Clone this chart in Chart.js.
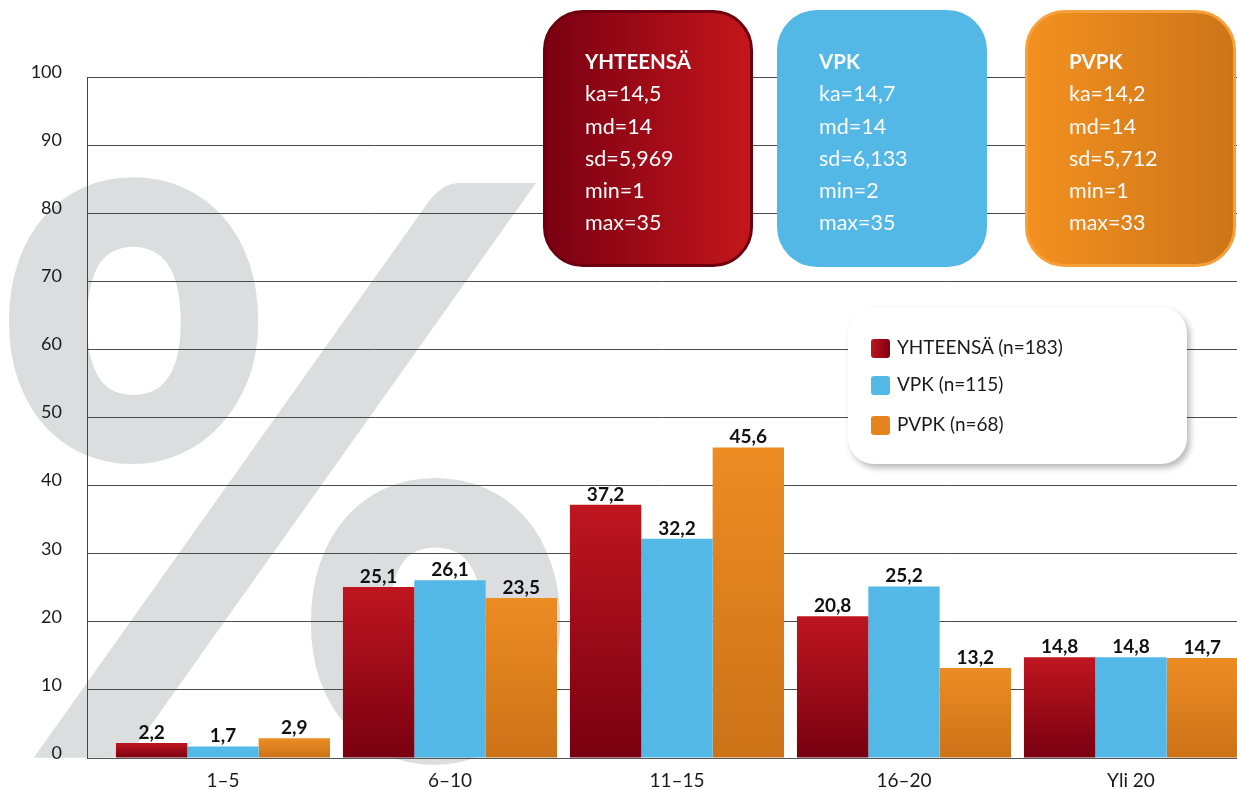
<!DOCTYPE html>
<html>
<head>
<meta charset="utf-8">
<script src="https://cdn.jsdelivr.net/npm/chart.js@4/dist/chart.umd.min.js"></script>
<style>
  html, body { margin: 0; padding: 0; background: #fff; overflow: hidden; }
  #wrap { position: relative; width: 1237px; height: 790px; overflow: hidden; }
  #c { position: absolute; left: 0; top: 0; }
  .stat { position: absolute; top: 10px; height: 257px; box-sizing: border-box; border-radius: 40px;
          font-family: Lato, "Open Sans", sans-serif; font-size: 21.5px; line-height: 32.3px; color: #fbfbfb; }
  .stat .txt { position: absolute; top: 32px; }
  .stat .ttl { font-weight: bold; font-size: 20.5px; }
  #legend { position: absolute; left: 848px; top: 307px; width: 339px; height: 157px; box-sizing: border-box;
            background: #fff; border-radius: 26px; box-shadow: 3px 4px 6px rgba(0,0,0,0.28);
            font-family: Lato, "Open Sans", sans-serif; font-size: 19px; line-height: 22px; color: #1a1a1a; }
  #legend .row { position: absolute; left: 23px; white-space: nowrap; }
  #legend .mk { position: absolute; left: 0; top: 2.5px; width: 19px; height: 19px; border-radius: 3px; }
  #legend .lb { position: absolute; left: 26px; top: 0; }
</style>
</head>
<body>
<div id="wrap">
  <canvas id="c" width="1237" height="790"></canvas>
  <div id="boxes"></div>
  <div id="legend"></div>
</div>
<script>
// ---- data ----
const categories = ['1–5', '6–10', '11–15', '16–20', 'Yli 20'];
const seriesNames = ['YHTEENSÄ', 'VPK', 'PVPK'];
const seriesN = [183, 115, 68];
const valuesYhteensa = [2.2, 25.1, 37.2, 20.8, 14.8];
const valuesVpk = [1.7, 26.1, 32.2, 25.2, 14.8];
const valuesPvpk = [2.9, 23.5, 45.6, 13.2, 14.7];
const yTicks = [0, 10, 20, 30, 40, 50, 60, 70, 80, 90, 100];
const statNames = ['ka', 'md', 'sd', 'min', 'max'];
const statsYhteensa = ['14,5', '14', '5,969', '1', '35'];
const statsVpk = ['14,7', '14', '6,133', '2', '35'];
const statsPvpk = ['14,2', '14', '5,712', '1', '33'];
const watermarkSymbol = '%';

// ---- styles ----
const barColors = [
  ['#bf1620', '#780010'],
  ['#54b8e7', '#54b8e7'],
  ['#ec8c23', '#cc7218']
];
const fmt = v => String(v).replace('.', ',');

function gradFill(idx) {
  return (c) => {
    const [top, bot] = barColors[idx];
    if (top === bot) return top;
    const chart = c.chart;
    const ys = chart.scales && chart.scales.y;
    if (!chart.chartArea || !ys || c.type !== 'data' || !c.raw) return top;
    const yt = ys.getPixelForValue(c.raw.y);
    const yb = ys.getPixelForValue(0);
    const g = chart.ctx.createLinearGradient(0, yt, 0, yb);
    g.addColorStop(0, top);
    g.addColorStop(1, bot);
    return g;
  };
}

const allValues = [valuesYhteensa, valuesVpk, valuesPvpk];
const datasets = allValues.map((vals, i) => ({
  label: seriesNames[i],
  data: vals.map((v, j) => ({ x: j, y: v })),
  backgroundColor: gradFill(i),
  borderWidth: 0,
  categoryPercentage: 0.943,
  barPercentage: 1.0
}));

const watermark = {
  id: 'watermark',
  beforeDraw(chart) {
    const ctx = chart.ctx;
    ctx.save();
    ctx.font = '900 400px Lato';
    const m = ctx.measureText(watermarkSymbol);
    const w = m.actualBoundingBoxLeft + m.actualBoundingBoxRight;
    const h = m.actualBoundingBoxAscent + m.actualBoundingBoxDescent;
    const bx = 5, by = 176, bw = 560, bh = 594;
    ctx.translate(bx, by);
    ctx.scale(bw / w, bh / h);
    ctx.fillStyle = '#dcdddf';
    ctx.textAlign = 'left';
    ctx.textBaseline = 'alphabetic';
    ctx.fillText(watermarkSymbol, m.actualBoundingBoxLeft, m.actualBoundingBoxAscent);
    ctx.restore();
  }
};

const valueLabels = {
  id: 'valueLabels',
  afterDatasetsDraw(chart) {
    const ctx = chart.ctx;
    ctx.save();
    ctx.font = 'bold 19px Lato';
    ctx.fillStyle = '#111';
    ctx.textAlign = 'center';
    ctx.textBaseline = 'alphabetic';
    chart.data.datasets.forEach((ds, di) => {
      const meta = chart.getDatasetMeta(di);
      meta.data.forEach((bar, j) => {
        ctx.fillText(fmt(allValues[di][j]), bar.x, bar.y - 4);
      });
    });
    ctx.restore();
  }
};

new Chart(document.getElementById('c'), {
  type: 'bar',
  data: { datasets },
  plugins: [watermark, valueLabels],
  options: {
    responsive: false,
    animation: false,
    devicePixelRatio: 1,
    layout: { padding: { top: 77, left: 0, right: 0, bottom: 0 } },
    plugins: { legend: { display: false }, tooltip: { enabled: false } },
    scales: {
      x: {
        type: 'linear',
        offset: false,
        min: -0.599,
        max: 4.467,
        afterBuildTicks: (axis) => { axis.ticks = categories.map((c, i) => ({ value: i })); },
        afterFit: (axis) => { axis.height = 32; },
        grid: { display: false, drawTicks: false, offset: false },
        border: { display: true, color: '#555', width: 1 },
        ticks: {
          callback: (v) => categories[v],
          font: { family: 'Lato', size: 19 },
          color: '#1a1a1a',
          padding: 11,
          maxRotation: 0,
          autoSkip: false
        }
      },
      y: {
        min: 0,
        max: 100,
        afterBuildTicks: (axis) => { axis.ticks = yTicks.map(v => ({ value: v })); },
        afterFit: (axis) => { axis.width = 87; },
        grid: { color: '#4a4a4a', lineWidth: 1, drawTicks: true, tickLength: 6, tickColor: 'rgba(0,0,0,0)' },
        border: { display: true, color: '#444', width: 1 },
        ticks: {
          font: { family: 'Lato', size: 18 },
          color: '#1a1a1a',
          padding: 19,
          labelOffset: -5
        }
      }
    }
  }
});

// ---- stat boxes ----
const boxSpecs = [
  { name: seriesNames[0], stats: statsYhteensa, left: 543, width: 210, padL: 39,
    bg: 'linear-gradient(to right, #7a0012, #c4161c)', border: '3px solid #6c000e' },
  { name: seriesNames[1], stats: statsVpk, left: 777, width: 210, padL: 42,
    bg: '#54b8e7', border: 'none' },
  { name: seriesNames[2], stats: statsPvpk, left: 1025, width: 211, padL: 41,
    bg: 'linear-gradient(to right, #f39020, #cc7518)', border: '3px solid #f7a03a' }
];
const boxesEl = document.getElementById('boxes');
boxSpecs.forEach(s => {
  const d = document.createElement('div');
  d.className = 'stat';
  d.style.left = s.left + 'px';
  d.style.width = s.width + 'px';
  d.style.background = s.bg;
  d.style.border = s.border;
  const t = document.createElement('div');
  t.className = 'txt';
  t.style.left = s.padL + 'px';
  if (s.border === 'none') t.style.top = '35px';
  let html = '<div class="ttl">' + s.name + '</div>';
  statNames.forEach((n, i) => { html += '<div>' + n + '=' + s.stats[i] + '</div>'; });
  t.innerHTML = html;
  d.appendChild(t);
  boxesEl.appendChild(d);
});

// ---- legend ----
const legendEl = document.getElementById('legend');
const markerBg = [
  'linear-gradient(to right, #c0141e, #7e0012)',
  '#54b8e7',
  '#e5841e'
];
const rowTops = [29, 66, 106];
seriesNames.forEach((n, i) => {
  const r = document.createElement('div');
  r.className = 'row';
  r.style.top = rowTops[i] + 'px';
  r.innerHTML = '<span class="mk" style="background:' + markerBg[i] + '"></span><span class="lb">' +
    n + ' (n=' + seriesN[i] + ')</span>';
  legendEl.appendChild(r);
});
</script>
</body>
</html>
